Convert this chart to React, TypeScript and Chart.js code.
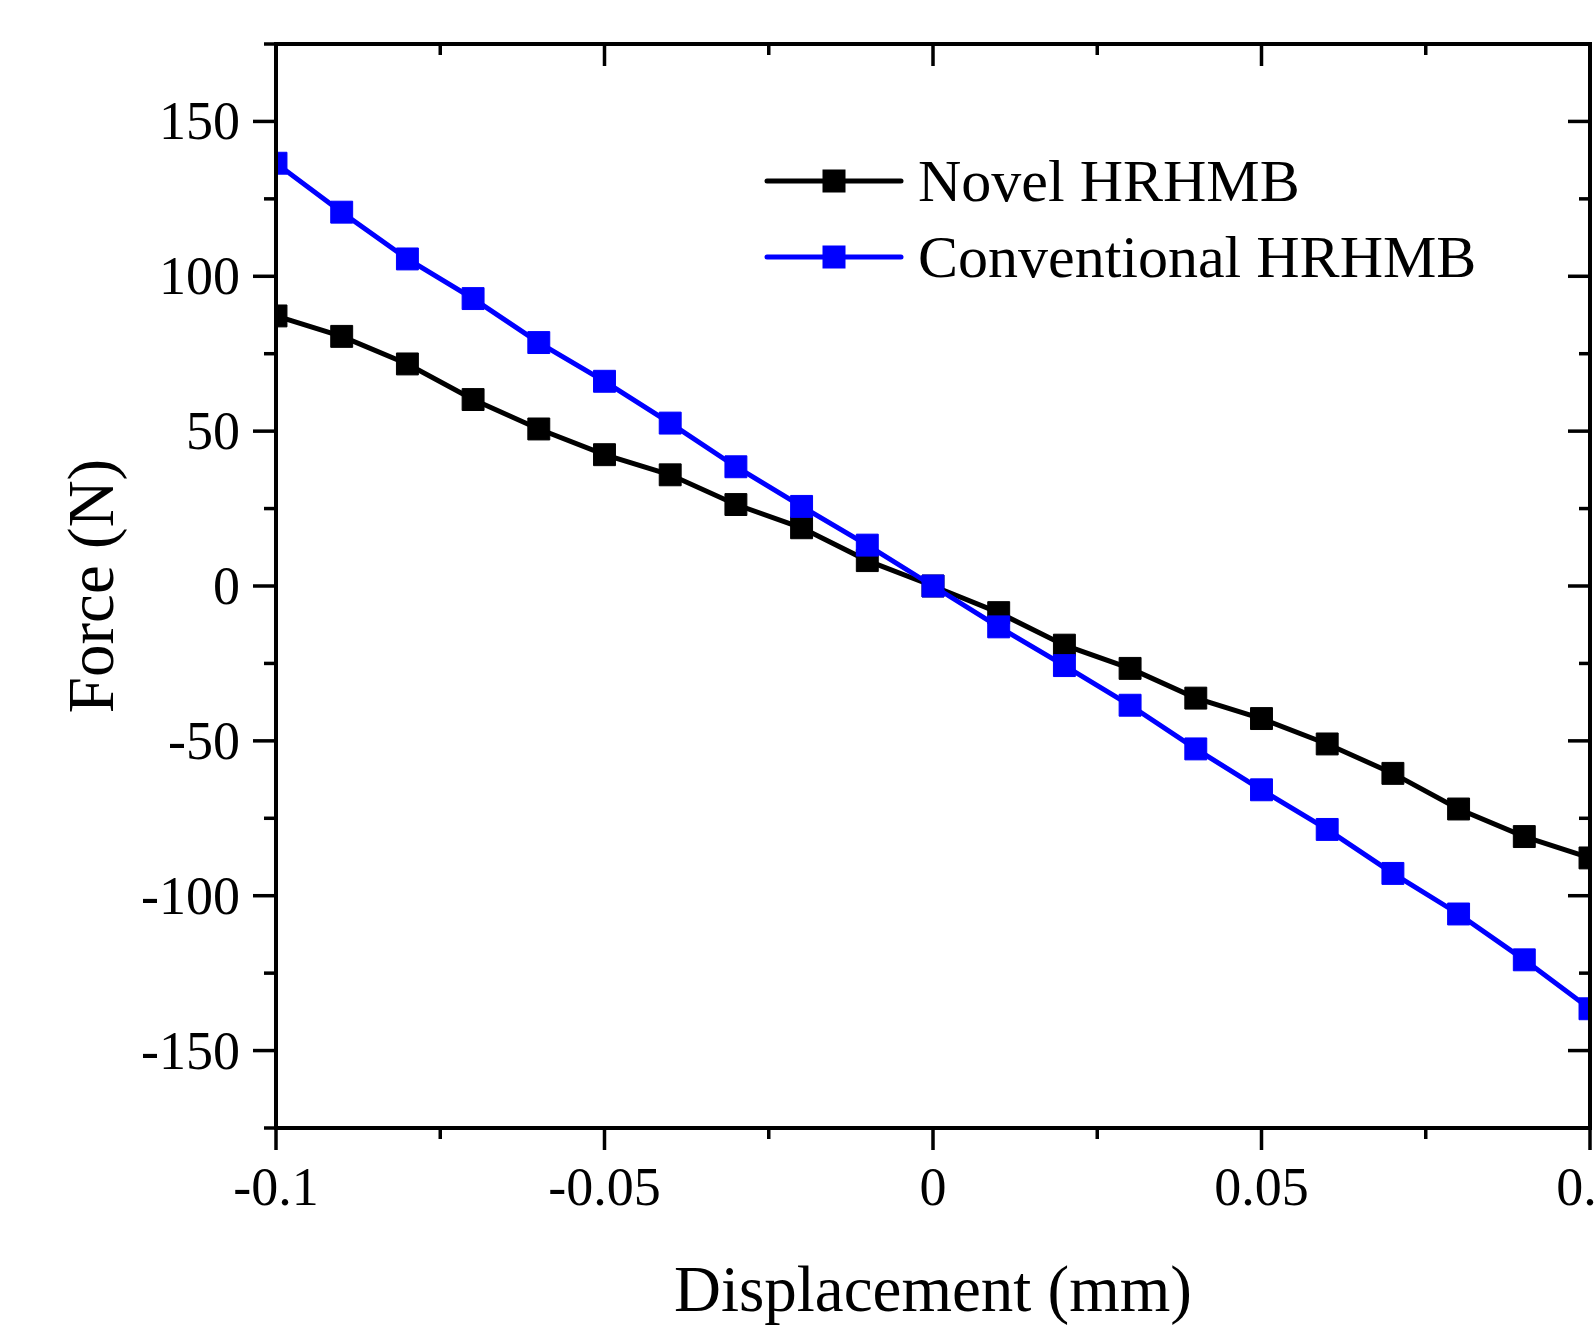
import React, { useEffect, useRef } from "react";
import { Chart, registerables } from "chart.js";

Chart.register(...registerables);

const displacement = [
  -0.1, -0.09, -0.08, -0.07, -0.06, -0.05, -0.04, -0.03, -0.02, -0.01, 0,
  0.01, 0.02, 0.03, 0.04, 0.05, 0.06, 0.07, 0.08, 0.09, 0.1,
];
const novelForce = [
  87.2, 80.6, 71.7, 60.2, 50.7, 42.4, 35.9, 26.3, 18.8, 8.2, 0,
  -8.6, -19.1, -26.6, -36.2, -42.8, -51.0, -60.5, -72.0, -80.9, -87.8,
];
const conventionalForce = [
  136.5, 120.7, 105.6, 92.8, 78.6, 66.1, 52.6, 38.5, 25.7, 13.2, 0,
  -13.2, -25.7, -38.5, -52.6, -65.8, -78.6, -92.8, -105.9, -120.7, -136.5,
];
const seriesLabels = ["Novel HRHMB", "Conventional HRHMB"];
const seriesColors = ["#000000", "#0000ff"];

const xMajorTicks = [-0.1, -0.05, 0, 0.05, 0.1];
const xTickLabels = ["-0.1", "-0.05", "0", "0.05", "0.1"];
const xMinorTicks = [-0.075, -0.025, 0.025, 0.075];
const yMajorTicks = [-150, -100, -50, 0, 50, 100, 150];
const yTickLabels = ["-150", "-100", "-50", "0", "50", "100", "150"];
const yMinorTicks = [-175, -125, -75, -25, 25, 75, 125, 175];

const xTitle = "Displacement (mm)";
const yTitle = "Force (N)";

const SERIF = '"Liberation Serif", "Times New Roman", serif';

const framePlugin = {
  id: "framePlugin",
  afterDraw(chart: any) {
    const { ctx, chartArea } = chart;
    const { left, right, top, bottom } = chartArea;
    const xs = chart.scales.x;
    const ys = chart.scales.y;
    ctx.save();
    ctx.strokeStyle = "#000";
    ctx.fillStyle = "#000";
    ctx.lineWidth = 4;
    ctx.lineCap = "square";
    ctx.strokeRect(left, top, right - left, bottom - top);

    ctx.lineWidth = 3.5;
    ctx.lineCap = "butt";
    const line = (x1: number, y1: number, x2: number, y2: number) => {
      ctx.beginPath();
      ctx.moveTo(x1, y1);
      ctx.lineTo(x2, y2);
      ctx.stroke();
    };
    const MAJ = 22;
    const MIN = 11;
    yMajorTicks.forEach((v) => {
      const y = ys.getPixelForValue(v);
      line(left - MAJ - 1, y, left, y);
      line(right - MAJ, y, right, y);
    });
    yMinorTicks.forEach((v) => {
      const y = ys.getPixelForValue(v);
      line(left - MIN - 1, y, left, y);
      line(right - MIN, y, right, y);
    });
    xMajorTicks.forEach((v) => {
      const x = xs.getPixelForValue(v);
      line(x, bottom, x, bottom + MAJ);
      line(x, top, x, top + MAJ);
    });
    xMinorTicks.forEach((v) => {
      const x = xs.getPixelForValue(v);
      line(x, bottom, x, bottom + MIN);
      line(x, top, x, top + MIN);
    });

    // tick labels
    ctx.font = `54px ${SERIF}`;
    ctx.textAlign = "right";
    ctx.textBaseline = "alphabetic";
    yMajorTicks.forEach((v, i) => {
      const y = ys.getPixelForValue(v);
      ctx.fillText(yTickLabels[i], left - 36, y + 18);
    });
    ctx.textAlign = "center";
    xMajorTicks.forEach((v, i) => {
      const x = xs.getPixelForValue(v);
      ctx.fillText(xTickLabels[i], x, bottom + 77);
    });

    // axis titles
    ctx.font = `65px ${SERIF}`;
    ctx.textAlign = "center";
    ctx.fillText(xTitle, (left + right) / 2, 1311);
    ctx.save();
    ctx.translate(113, (top + bottom) / 2);
    ctx.rotate(-Math.PI / 2);
    ctx.fillText(yTitle, 0, 0);
    ctx.restore();

    // legend
    const rows = [181, 257];
    ctx.font = `60px ${SERIF}`;
    ctx.textAlign = "left";
    seriesLabels.forEach((label, i) => {
      const y = rows[i];
      ctx.strokeStyle = seriesColors[i];
      ctx.lineWidth = 5;
      ctx.lineCap = "round";
      line(767, y, 901, y);
      ctx.fillStyle = seriesColors[i];
      ctx.fillRect(834 - 11.5, y - 11.5, 23, 23);
      ctx.fillStyle = "#000";
      ctx.fillText(label, 918, y + 20);
    });
    ctx.restore();
  },
};

export default function App() {
  const canvasRef = useRef<HTMLCanvasElement | null>(null);

  useEffect(() => {
    if (!canvasRef.current) return;
    const makeData = (vals: number[]) =>
      displacement.map((x, i) => ({ x, y: vals[i] }));
    const chart = new Chart(canvasRef.current, {
      type: "line",
      data: {
        datasets: [
          {
            label: seriesLabels[0],
            data: makeData(novelForce),
            borderColor: seriesColors[0],
            backgroundColor: seriesColors[0],
            pointBackgroundColor: seriesColors[0],
            pointBorderColor: seriesColors[0],
            borderWidth: 5,
            pointStyle: "rect",
            pointRadius: 15.5,
            pointBorderWidth: 1,
            tension: 0,
            order: 1,
          },
          {
            label: seriesLabels[1],
            data: makeData(conventionalForce),
            borderColor: seriesColors[1],
            backgroundColor: seriesColors[1],
            pointBackgroundColor: seriesColors[1],
            pointBorderColor: seriesColors[1],
            borderWidth: 5,
            pointStyle: "rect",
            pointRadius: 15.5,
            pointBorderWidth: 1,
            tension: 0,
            order: 0,
          },
        ],
      },
      options: {
        responsive: false,
        animation: false,
        devicePixelRatio: 1,
        layout: {
          autoPadding: false,
          padding: { left: 276, right: 4, top: 44, bottom: 202 },
        },
        plugins: {
          legend: { display: false },
          tooltip: { enabled: false },
        },
        scales: {
          x: {
            type: "linear",
            min: -0.1,
            max: 0.1,
            display: false,
            ticks: { display: false },
            grid: { display: false },
          },
          y: {
            type: "linear",
            min: -175,
            max: 175,
            display: false,
            ticks: { display: false },
            grid: { display: false },
          },
        },
      },
      plugins: [framePlugin],
    });
    return () => chart.destroy();
  }, []);

  return (
    <div
      style={{
        position: "absolute",
        left: 0,
        top: 0,
        width: 1594,
        height: 1330,
        background: "#fff",
      }}
    >
      <canvas
        ref={canvasRef}
        width={1594}
        height={1330}
        style={{ display: "block", width: 1594, height: 1330 }}
      />
    </div>
  );
}
